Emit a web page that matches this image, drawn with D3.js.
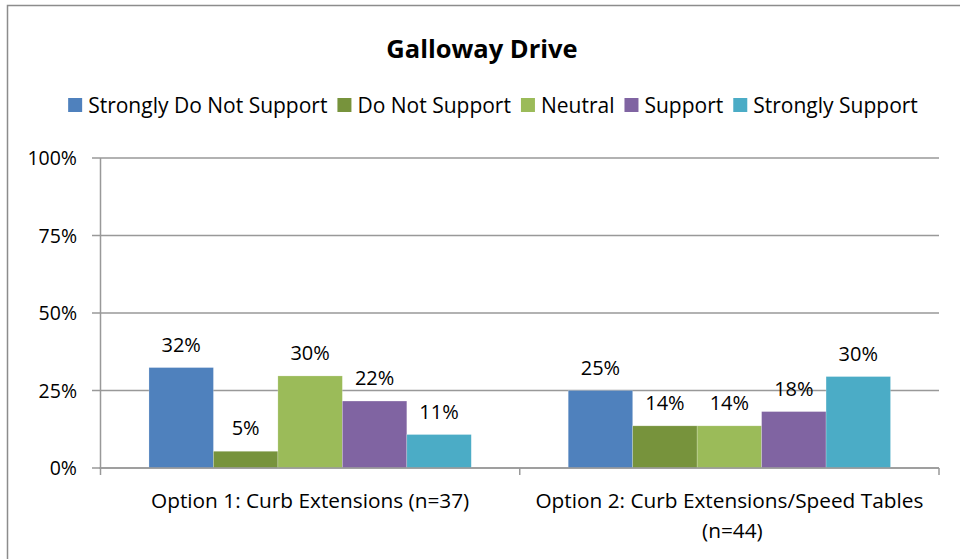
<!DOCTYPE html>
<html><head><meta charset="utf-8">
<script src="https://cdn.jsdelivr.net/npm/d3@7/dist/d3.min.js"></script>
<style>body{margin:0;background:#fff}svg{display:block}text{font-family:"Open Sans",sans-serif;fill:#000}</style>
</head><body>
<svg id="c" width="960" height="559"></svg>
<script>
const title = "Galloway Drive";
const categories = ["Option 1: Curb Extensions (n=37)", "Option 2: Curb Extensions/Speed Tables|(n=44)"];
const seriesNames = ["Strongly Do Not Support","Do Not Support","Neutral","Support","Strongly Support"];
const seriesColors = ["#4F81BD","#77933C","#9BBB59","#8064A2","#4BACC6"];
const values = [
  [32.4, 5.4, 29.7, 21.6, 10.8],
  [25.0, 13.6, 13.6, 18.2, 29.5]
];
const labels = [
  ["32%","5%","30%","22%","11%"],
  ["25%","14%","14%","18%","30%"]
];
const yTicks = [0,25,50,75,100];

const svg = d3.select("#c");
const L = 100.5, R = 939, T = 158, B = 468;

// outer border
svg.append("rect").attr("x",7.5).attr("y",5.5).attr("width",1000).attr("height",1000)
  .attr("fill","none").attr("stroke","#8c8c8c").attr("stroke-width",1.5);

const y = d3.scaleLinear().domain([0,100]).range([B,T]);
const x0 = d3.scaleBand().domain(d3.range(categories.length)).range([L,R]).padding(0);
const x1 = d3.scaleBand().domain(d3.range(seriesNames.length)).range([0,x0.bandwidth()]).paddingInner(0).paddingOuter(0.752);

// gridlines
svg.append("g").selectAll("line").data(yTicks).join("line")
  .attr("x1",92).attr("x2",R).attr("y1",d=>y(d)).attr("y2",d=>y(d))
  .attr("stroke","#999").attr("stroke-width",1.5);
// y axis line
svg.append("line").attr("x1",L).attr("x2",L).attr("y1",T).attr("y2",B+1).attr("stroke","#999").attr("stroke-width",1.5);
// y tick labels
svg.append("g").selectAll("text").data(yTicks).join("text")
  .attr("x",77).attr("y",d=>y(d)).attr("dy","0.36em").attr("text-anchor","end")
  .style("font-size","19.5px").text(d=>d+"%");

// bars
const g = svg.append("g").selectAll("g").data(values).join("g")
  .attr("transform",(d,i)=>`translate(${x0(i)},0)`);
g.selectAll("rect").data(d=>d).join("rect")
  .attr("x",(d,j)=>x1(j)).attr("width",x1.bandwidth())
  .attr("y",d=>y(d)).attr("height",d=>B-y(d))
  .attr("fill",(d,j)=>seriesColors[j])
  .attr("stroke","rgba(255,255,255,0.35)").attr("stroke-width",0.6);
g.selectAll("text").data((d,i)=>d.map((v,j)=>({v,l:labels[i][j]}))).join("text")
  .attr("x",(d,j)=>x1(j)+x1.bandwidth()/2).attr("y",d=>y(d.v)-16)
  .attr("text-anchor","middle").style("font-size","20px").text(d=>d.l);

// x axis
svg.append("line").attr("x1",L-1).attr("x2",R).attr("y1",B).attr("y2",B).attr("stroke","#999").attr("stroke-width",1.5);
const xt = [L, x0(1), R];
svg.append("g").selectAll("line").data(xt).join("line")
  .attr("x1",d=>d).attr("x2",d=>d).attr("y1",B).attr("y2",B+7).attr("stroke","#999").attr("stroke-width",1.5);
// category labels
svg.append("g").selectAll("text").data(categories).join("text")
  .attr("text-anchor","middle").style("font-size","20.8px")
  .each(function(d,i){
    const t = d3.select(this);
    d.split("|").forEach((line,k)=>{
      t.append("tspan").attr("x",x0(i)+x0.bandwidth()/2 + (k>0?3:0)).attr("y",508+k*30).text(line);
    });
  });

// title
svg.append("text").attr("x",482).attr("y",58).attr("text-anchor","middle")
  .style("font-size","25.5px").style("font-weight","bold").text(title);

// legend
const lg = svg.append("g");
const items = lg.selectAll("g").data(seriesNames).join("g");
items.append("rect").attr("width",14).attr("height",14).attr("y",98).attr("fill",(d,j)=>seriesColors[j]);
items.append("text").attr("x",20).attr("y",113).style("font-size","21px").text(d=>d);
const widths = [];
items.each(function(){ widths.push(d3.select(this).select("text").node().getComputedTextLength()); });
const total = d3.sum(widths) + widths.length*20 + (widths.length-1)*10;
let start = 493 - total/2;
items.attr("transform",(d,j)=>{ const tx = start; start += 20 + widths[j] + 10; return `translate(${tx},0)`; });
</script>
</body></html>
